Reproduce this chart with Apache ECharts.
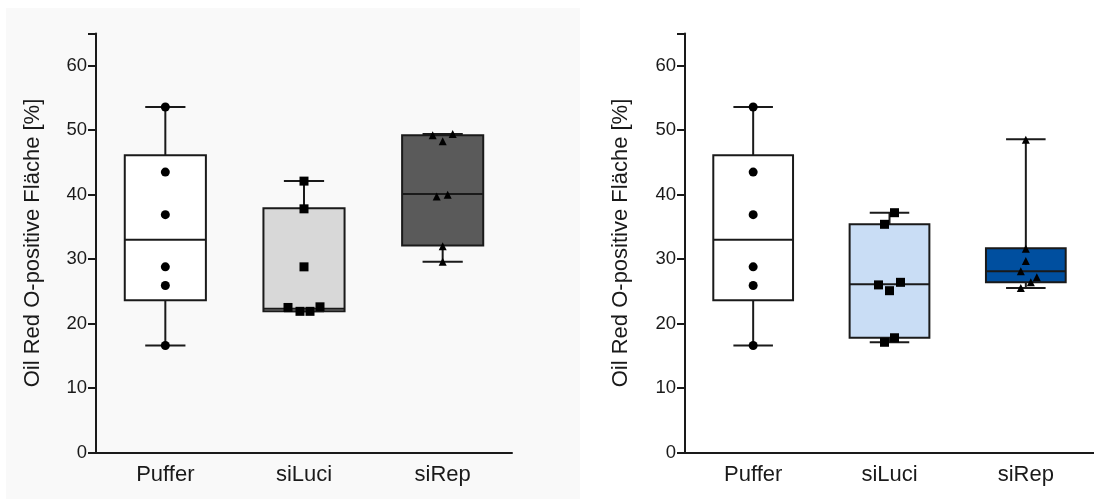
<!DOCTYPE html>
<html lang="de">
<head>
    <meta charset="UTF-8">
    <title>Oil Red O-positive Fläche</title>
    <script src="https://cdn.jsdelivr.net/npm/echarts@6/dist/echarts.min.js"></script>
    <style>
        html, body { margin: 0; padding: 0; background: #fff; }
        #chart { width: 1094px; height: 499px; }
    </style>
</head>
<body>
    <div id="chart"></div>
    <script>
        // Daten
        const categories = ['Puffer', 'siLuci', 'siRep'];
        const yTitle = 'Oil Red O-positive Fläche [%]';

        // linkes Panel
        const leftPuffer = [53.6, 43.5, 36.9, 28.8, 25.9, 16.6];
        const leftSiLuci = [42.1, 37.8, 28.8, 22.5, 21.9, 21.9, 22.6];
        const leftSiRep = [49.2, 48.3, 49.4, 39.7, 40.0, 32.0, 29.6];
        // [min, Q1, Median, Q3, max]
        const leftBoxes = [
            [16.6, 23.6, 33.0, 46.1, 53.6],
            [21.9, 21.9, 22.3, 37.9, 42.1],
            [29.6, 32.1, 40.1, 49.2, 49.4]
        ];

        // rechtes Panel
        const rightPuffer = [53.6, 43.5, 36.9, 28.8, 25.9, 16.6];
        const rightSiLuci = [37.2, 35.4, 26.0, 25.1, 26.4, 17.8, 17.1];
        const rightSiRep = [48.5, 31.6, 29.7, 28.1, 27.2, 26.4, 25.5];
        const rightBoxes = [
            [16.6, 23.6, 33.0, 46.1, 53.6],
            [17.1, 17.8, 26.1, 35.4, 37.2],
            [25.5, 26.4, 28.1, 31.7, 48.6]
        ];

        // horizontale Streuung der Punkte (Pixel)
        const leftJitter = [[0, 0, 0, 0, 0, 0], [0, 0, 0, -16, -4, 6, 16], [-10, 0, 10, -6, 5, 0, 0]];
        const rightJitter = [[0, 0, 0, 0, 0, 0], [5, -5, -11, 0, 11, 5, -5], [0, 0, 0, -5, 11, 5, -5]];

        const leftFills = ['#ffffff', '#d8d8d8', '#5a5a5a'];
        const rightFills = ['#ffffff', '#c9ddf5', '#004f9f'];
        const symbols = ['circle', 'rect', 'triangle'];
        const symbolSizes = [9, 9, 8];

        const ink = '#1a1a1a';
        const font = 'Liberation Sans, Arial, sans-serif';

        const chart = echarts.init(document.getElementById('chart'));

        function boxRenderer(fills) {
            return function (params, api) {
                const i = api.value(0);
                const lo = api.coord([i, api.value(1)]);
                const q1 = api.coord([i, api.value(2)]);
                const med = api.coord([i, api.value(3)]);
                const q3 = api.coord([i, api.value(4)]);
                const hi = api.coord([i, api.value(5)]);
                const band = api.size([1, 0])[0];
                const bw = band * 0.585;
                const cw = band * 0.29;
                const cx = q1[0];
                const line = { stroke: ink, lineWidth: 2 };
                return {
                    type: 'group',
                    children: [
                        { type: 'line', shape: { x1: cx, y1: hi[1], x2: cx, y2: q3[1] }, style: line },
                        { type: 'line', shape: { x1: cx, y1: q1[1], x2: cx, y2: lo[1] }, style: line },
                        { type: 'line', shape: { x1: cx - cw / 2, y1: hi[1], x2: cx + cw / 2, y2: hi[1] }, style: line },
                        { type: 'line', shape: { x1: cx - cw / 2, y1: lo[1], x2: cx + cw / 2, y2: lo[1] }, style: line },
                        {
                            type: 'rect',
                            shape: { x: cx - bw / 2, y: q3[1], width: bw, height: q1[1] - q3[1] },
                            style: { fill: fills[params.dataIndex], stroke: ink, lineWidth: 2 }
                        },
                        { type: 'line', shape: { x1: cx - bw / 2, y1: med[1], x2: cx + bw / 2, y2: med[1] }, style: line }
                    ]
                };
            };
        }

        function xAxisOpt(gridIndex) {
            return {
                type: 'category',
                gridIndex: gridIndex,
                data: categories,
                axisLine: { lineStyle: { color: ink, width: 2 } },
                axisTick: { alignWithLabel: true, length: 6, lineStyle: { color: ink, width: 2 } },
                axisLabel: { color: '#1a1a1a', fontSize: 22, fontFamily: font, margin: 11 },
                splitLine: { show: false }
            };
        }

        function yAxisOpt(gridIndex, gap) {
            return {
                type: 'value',
                gridIndex: gridIndex,
                min: 0,
                max: 65,
                interval: 10,
                name: yTitle,
                nameLocation: 'middle',
                nameGap: gap,
                nameTextStyle: { color: '#1a1a1a', fontSize: 22, fontFamily: font },
                axisLine: { show: true, lineStyle: { color: ink, width: 2 } },
                axisTick: { show: true, length: 8, lineStyle: { color: ink, width: 2 } },
                axisLabel: { color: '#1a1a1a', fontSize: 18.5, fontFamily: font, margin: 9,
                    formatter: v => (v > 60 ? '' : v) },
                splitLine: { show: false }
            };
        }

        function panelSeries(idx, groups, boxes, jitter, fills) {
            const out = [{
                type: 'custom',
                xAxisIndex: idx,
                yAxisIndex: idx,
                renderItem: boxRenderer(fills),
                encode: { x: 0, y: [1, 2, 3, 4, 5] },
                data: boxes.map((b, i) => [i].concat(b)),
                z: 2,
                silent: true
            }];
            groups.forEach((vals, ci) => {
                out.push({
                    type: 'scatter',
                    xAxisIndex: idx,
                    yAxisIndex: idx,
                    symbol: symbols[ci],
                    symbolSize: symbolSizes[ci],
                    itemStyle: { color: '#000', opacity: 1 },
                    z: 5,
                    silent: true,
                    data: vals.map((v, k) => ({ value: [ci, v], symbolOffset: [jitter[ci][k], 0] }))
                });
            });
            return out;
        }

        const option = {
            animation: false,
            backgroundColor: '#ffffff',
            graphic: [{
                type: 'rect',
                z: -10,
                silent: true,
                shape: { x: 6, y: 8, width: 574, height: 491 },
                style: { fill: '#f9f9f9' }
            }],
            grid: [
                { left: 96, top: 33.5, width: 416, bottom: 46.5 },
                { left: 685, top: 33.5, width: 416, bottom: 46.5 }
            ],
            xAxis: [xAxisOpt(0), xAxisOpt(1)],
            yAxis: [yAxisOpt(0, 52), yAxisOpt(1, 53)],
            series: []
                .concat(panelSeries(0, [leftPuffer, leftSiLuci, leftSiRep], leftBoxes, leftJitter, leftFills))
                .concat(panelSeries(1, [rightPuffer, rightSiLuci, rightSiRep], rightBoxes, rightJitter, rightFills))
        };

        chart.setOption(option);
    </script>
</body>
</html>
